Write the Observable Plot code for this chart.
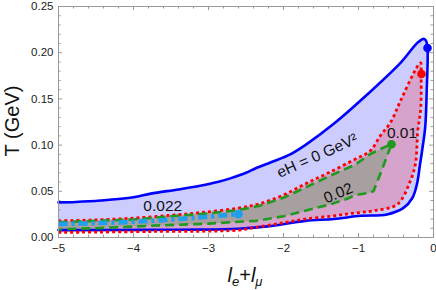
<!DOCTYPE html>
<html>
<head>
<meta charset="utf-8">
<script src="https://cdn.jsdelivr.net/npm/d3@7"></script>
<script src="https://cdn.jsdelivr.net/npm/@observablehq/plot@0.6"></script>
<style>
  html, body { margin: 0; padding: 0; background: #fff; }
  #chart { width: 436px; height: 290px; }
</style>
</head>
<body>
<div id="chart"></div>
<script>
// ---- data ----
// eH = 0 GeV^2 region boundary (upper edge left->right, then lower edge right->left)
const blueX = [-5, -4.77, -4.44, -4.0, -3.77, -3.4, -3.11, -2.88, -2.71, -2.5, -2.37, -2.15, -1.91, -1.71, -1.33, -0.88, -0.44, -0.21, -0.13, -0.1, -0.08,
               -0.09, -0.11, -0.15, -0.18, -0.22, -0.28, -0.40, -0.62, -0.97, -1.33, -1.71, -2.21, -2.6, -3.1, -3.77, -5];
const blueT = [0.038, 0.0385, 0.040, 0.0435, 0.0475, 0.052, 0.056, 0.060, 0.064, 0.070, 0.075, 0.082, 0.090, 0.100, 0.123, 0.155, 0.189, 0.211, 0.215, 0.213, 0.205,
               0.16, 0.12, 0.095, 0.079, 0.058, 0.043, 0.032, 0.025, 0.0235, 0.020, 0.018, 0.012, 0.0095, 0.0085, 0.0083, 0.008];
// eH = 0.01 GeV^2 region
const redX = [-5, -4.5, -4.0, -3.5, -3.1, -2.6, -2.3, -2.0, -1.71, -1.4, -1.04, -0.84, -0.71, -0.57, -0.44, -0.27, -0.2, -0.17,
              -0.165, -0.17, -0.21, -0.24, -0.31, -0.48, -0.8, -1.1, -1.37, -1.71, -2.0, -2.37, -2.6, -3.77, -5];
const redT = [0.018, 0.019, 0.021, 0.024, 0.027, 0.0318, 0.037, 0.046, 0.058, 0.070, 0.085, 0.094, 0.110, 0.125, 0.148, 0.177, 0.187, 0.189,
              0.177, 0.14, 0.115, 0.080, 0.061, 0.036, 0.029, 0.026, 0.023, 0.020, 0.016, 0.011, 0.008, 0.0065, 0.0055];
// eH = 0.02 GeV^2 region
const greenX = [-5, -4.5, -4.0, -3.5, -3.0, -2.6, -2.33, -2.0, -1.71, -1.4, -1.04, -0.85, -0.7, -0.56,
                -0.68, -0.8, -0.88, -1.04, -1.15, -1.37, -1.71, -2.0, -2.37, -2.6, -3.0, -3.77, -4.5, -5];
const greenT = [0.0165, 0.018, 0.0195, 0.023, 0.026, 0.0296, 0.034, 0.043, 0.054, 0.066, 0.079, 0.090, 0.096, 0.101,
                0.075, 0.050, 0.048, 0.046, 0.042, 0.036, 0.029, 0.023, 0.018, 0.017, 0.015, 0.0127, 0.010, 0.009];
// eH = 0.022 GeV^2 line
const cyanX = [-5, -4.5, -4.0, -3.77, -3.3, -3.0, -2.6];
const cyanT = [0.0145, 0.0155, 0.017, 0.018, 0.0205, 0.0225, 0.0253];
// end points (critical points)
const dotX = [-0.08, -0.16, -0.56, -2.6];
const dotT = [0.205, 0.177, 0.101, 0.0253];
const dotColor = ["#0000ff", "#ff0000", "#1f9a1f", "#1e9ff0"];
// curve labels
const labelText = ["eH = 0 GeV\u00B2", "0.02", "0.01", "0.022"];
const labelX = [-1.55, -1.27, -0.42, -3.61];
const labelT = [0.0884, 0.048, 0.1128, 0.0343];
const labelRot = [-24, -22, 0, 0];
// ticks
const xMajor = [-5, -4, -3, -2, -1, 0];
const yMajor = [0, 0.05, 0.10, 0.15, 0.20, 0.25];

const xMinor = d3.range(-50, 1, 2).map(v => v / 10).filter(v => !xMajor.includes(v));
const yMinor = d3.range(0, 26).map(v => v / 100).filter(v => Math.abs(v * 20 - Math.round(v * 20)) > 1e-6);

const toPts = (xs, ts) => xs.map((x, i) => ({x, t: ts[i]}));
const blue = toPts(blueX, blueT);
const red = toPts(redX, redT);
const green = toPts(greenX, greenT);
const cyan = toPts(cyanX, cyanT);
const dots = dotX.map((x, i) => ({x, t: dotT[i], c: dotColor[i]}));
const labels = labelText.map((s, i) => ({s, x: labelX[i], t: labelT[i], r: labelRot[i]}));

const W = 436, H = 290, mL = 58, mR = 3, mT = 6, mB = 53;
const fw = W - mL - mR, fh = H - mT - mB;
const tickColor = "#999";
const maj = 4, mn = 2.5;

const chart = Plot.plot({
  width: W, height: H,
  marginLeft: mL, marginRight: mR, marginTop: mT, marginBottom: mB,
  style: {fontFamily: "'Liberation Sans', Arial, sans-serif", fontSize: "11.5px", color: "#222", background: "#fff"},
  x: {domain: [-5, 0]},
  y: {domain: [0, 0.25]},
  marks: [
    // fills
    Plot.line(blue, {x: "x", y: "t", curve: "catmull-rom", fill: "#0000ff", fillOpacity: 0.2, stroke: "none"}),
    Plot.line(red, {x: "x", y: "t", curve: "catmull-rom", fill: "#ff0000", fillOpacity: 0.2, stroke: "none"}),
    Plot.line(green, {x: "x", y: "t", curve: "linear", fill: "#009500", fillOpacity: 0.215, stroke: "none"}),
    // outlines
    Plot.line(blue, {x: "x", y: "t", curve: "catmull-rom", stroke: "#0000ff", strokeWidth: 2.6}),
    Plot.line(red, {x: "x", y: "t", curve: "catmull-rom", stroke: "#ff0000", strokeWidth: 2.8, strokeDasharray: "3,3", strokeLinecap: "butt"}),
    Plot.line(green, {x: "x", y: "t", curve: "linear", stroke: "#1f9a1f", strokeWidth: 2.6, strokeDasharray: "9,5", strokeLinecap: "butt"}),
    Plot.line(cyan, {x: "x", y: "t", curve: "catmull-rom", stroke: "#1e9ff0", strokeWidth: 4.5, strokeDasharray: "9,4,3,4", strokeLinecap: "butt"}),
    Plot.dot(dots, {x: "x", y: "t", r: 4.3, fill: "c", stroke: "none"}),
    Plot.text(labels, {x: "x", y: "t", text: "s", rotate: "r", fontSize: 15.5, fill: "#111"}),
    // frame and inward ticks on all sides
    Plot.frame({stroke: tickColor, strokeWidth: 1}),
    Plot.ruleX(xMajor, {x: d => d, insetTop: fh - maj, stroke: tickColor}),
    Plot.ruleX(xMinor, {x: d => d, insetTop: fh - mn, stroke: tickColor}),
    Plot.ruleX(xMajor, {x: d => d, insetBottom: fh - maj, stroke: tickColor}),
    Plot.ruleX(xMinor, {x: d => d, insetBottom: fh - mn, stroke: tickColor}),
    Plot.ruleY(yMajor, {y: d => d, insetRight: fw - maj, stroke: tickColor}),
    Plot.ruleY(yMinor, {y: d => d, insetRight: fw - mn, stroke: tickColor}),
    Plot.ruleY(yMajor, {y: d => d, insetLeft: fw - maj, stroke: tickColor}),
    Plot.ruleY(yMinor, {y: d => d, insetLeft: fw - mn, stroke: tickColor}),
    Plot.axisX({ticks: xMajor, tickSize: 0, tickPadding: 6, label: null,
      tickFormat: d => d === 0 ? "0" : (d < 0 ? "\u2212" : "") + Math.abs(d)}),
    Plot.axisY({ticks: yMajor, tickSize: 0, tickPadding: 5, label: null, tickFormat: d3.format(".2f")})
  ]
});

const svg = d3.select(chart);
// y-axis title
svg.append("text")
  .attr("transform", "translate(19,121) rotate(-90)")
  .attr("text-anchor", "middle")
  .attr("font-family", "'Liberation Sans', Arial, sans-serif")
  .attr("font-size", 20)
  .attr("fill", "#111")
  .text("T (GeV)");
// x-axis title: l_e + l_mu
const xt = svg.append("text")
  .attr("x", 245).attr("y", 282)
  .attr("text-anchor", "middle")
  .attr("font-family", "'Liberation Sans', Arial, sans-serif")
  .attr("font-size", 20)
  .attr("fill", "#111");
xt.append("tspan").attr("font-style", "italic").text("l");
xt.append("tspan").attr("font-style", "italic").attr("font-size", 13).attr("dy", 4).text("e");
xt.append("tspan").attr("dy", -4).text("+");
xt.append("tspan").attr("font-style", "italic").text("l");
xt.append("tspan").attr("font-style", "italic").attr("font-size", 13).attr("dy", 4).text("\u03BC");

document.getElementById("chart").appendChild(chart);
</script>
</body>
</html>
